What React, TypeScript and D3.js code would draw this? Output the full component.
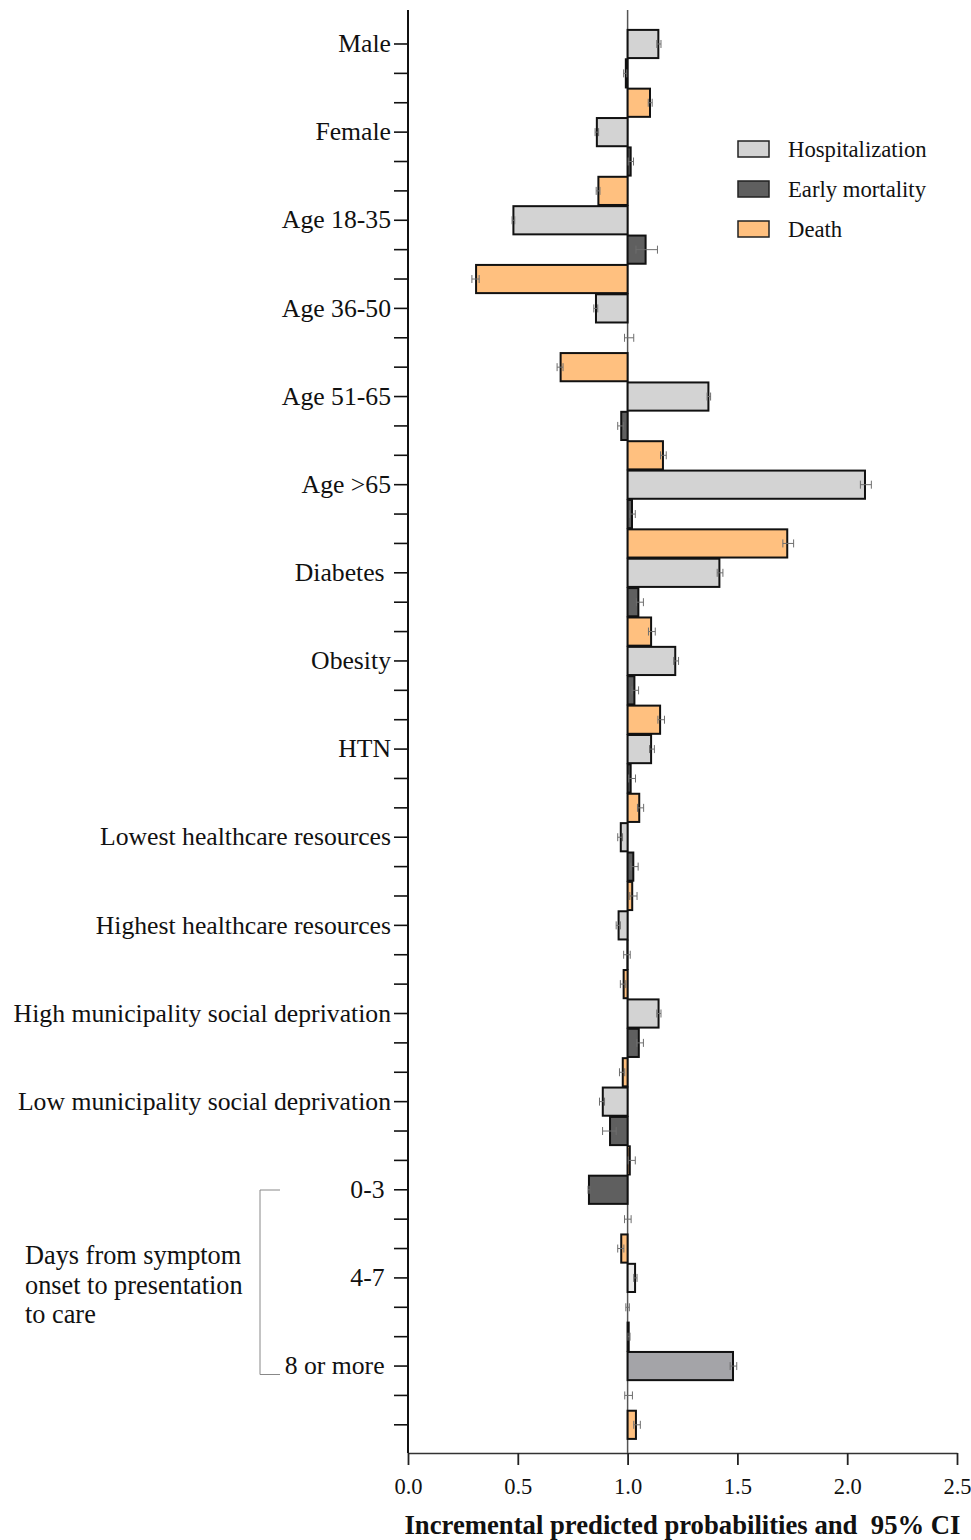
import { useRef, useEffect } from 'react';
import { select, scaleLinear, scaleBand, axisLeft, axisBottom, format } from 'd3';

// categories (trailing spaces are kept on purpose, the original labels sit further from the ticks)
const categories = [
  'Male',
  'Female',
  'Age 18-35',
  'Age 36-50',
  'Age 51-65',
  'Age >65',
  'Diabetes ',
  'Obesity',
  'HTN',
  'Lowest healthcare resources',
  'Highest healthcare resources',
  'High municipality social deprivation',
  'Low municipality social deprivation',
  '0-3 ',
  '4-7 ',
  '8 or more ',
];
const seriesNames = ['Hospitalization', 'Early mortality', 'Death'];

const hospitalization = [1.14, 0.86, 0.48, 0.856, 1.368, 2.081, 1.418, 1.217, 1.107, 0.969, 0.959, 1.141, 0.887, 0.824, 1.034, 1.48];
const hospitalizationLow = [1.133, 0.852, 0.474, 0.846, 1.362, 2.06, 1.408, 1.21, 1.1, 0.955, 0.948, 1.133, 0.872, 0.82, 1.028, 1.467];
const hospitalizationHigh = [1.152, 0.868, 0.486, 0.864, 1.378, 2.11, 1.434, 1.232, 1.122, 0.977, 0.967, 1.152, 0.895, 0.828, 1.043, 1.497];

const earlyMortality = [0.992, 1.014, 1.082, 1.0, 0.971, 1.02, 1.049, 1.031, 1.014, 1.026, 0.999, 1.051, 0.92, 1.0, 1.0, 1.0];
const earlyMortalityLow = [0.982, 1.003, 1.038, 0.986, 0.955, 1.009, 1.04, 1.02, 1.005, 1.015, 0.982, 1.042, 0.886, 0.986, 0.992, 0.987];
const earlyMortalityHigh = [0.996, 1.027, 1.136, 1.028, 0.982, 1.035, 1.072, 1.05, 1.036, 1.048, 1.012, 1.072, 0.948, 1.016, 1.008, 1.022];

const death = [1.102, 0.867, 0.31, 0.695, 1.161, 1.727, 1.107, 1.148, 1.053, 1.021, 0.982, 0.978, 1.01, 0.971, 1.005, 1.038];
const deathLow = [1.094, 0.857, 0.291, 0.679, 1.15, 1.707, 1.095, 1.138, 1.045, 1.01, 0.967, 0.963, 1.003, 0.955, 1.002, 1.028];
const deathHigh = [1.112, 0.874, 0.324, 0.706, 1.176, 1.756, 1.126, 1.168, 1.073, 1.043, 0.992, 0.987, 1.035, 0.983, 1.011, 1.058];

const xTicks = [0, 0.5, 1, 1.5, 2, 2.5];
const groupLabel = ['Days from symptom', 'onset to presentation', 'to care'];
const xTitle = 'Incremental predicted probabilities and\u00a0 95% CI';

const COLORS = ['#d3d3d3', '#5f5f5f', '#ffc07f'];
// the last block of the original figure uses odd fills for the first bar of each group
const FILL_OVERRIDE: Record<string, string> = {
  '0-3 |Hospitalization': '#5f5f5f',
  '4-7 |Hospitalization': '#ececec',
  '8 or more |Hospitalization': '#a4a4a8',
};

const WIDTH = 971;
const HEIGHT = 1540;
const LEFT = 408;
const RIGHT = 957;
const TOP = 10;
const BOTTOM = 1453;
const FONT = '"Liberation Serif", "Times New Roman", serif';

interface Row {
  key: string;
  category: string;
  series: number;
  value: number;
  low: number;
  high: number;
}

const series = [
  [hospitalization, hospitalizationLow, hospitalizationHigh],
  [earlyMortality, earlyMortalityLow, earlyMortalityHigh],
  [death, deathLow, deathHigh],
];

const rows: Row[] = categories.flatMap((category, i) =>
  seriesNames.map((name, s) => ({
    key: `${category}|${name}`,
    category,
    series: s,
    value: series[s][0][i],
    low: series[s][1][i],
    high: series[s][2][i],
  })),
);

export default function App() {
  const svgRef = useRef<SVGSVGElement>(null);

  useEffect(() => {
    const svg = select(svgRef.current!);
    svg.selectAll('*').remove();
    svg.attr('font-family', FONT);

    const x = scaleLinear().domain([0, 2.5]).range([LEFT, RIGHT]);
    const y = scaleBand<string>()
      .domain(rows.map((r) => r.key))
      .range([29.3, 1439.5]);
    const bw = y.bandwidth();

    // left axis, one tick per row, label only on the first row of each category
    const yAxis = svg
      .append('g')
      .attr('transform', `translate(${LEFT},0)`)
      .call(
        axisLeft(y)
          .tickSize(14)
          .tickSizeOuter(0)
          .tickPadding(3)
          .tickFormat((k) => (k.endsWith('|Hospitalization') ? k.split('|')[0] : '')),
      )
      .attr('font-family', FONT)
      .attr('font-size', 25.7);
    yAxis.select('.domain').remove();
    yAxis.selectAll('line').attr('stroke', '#111').attr('stroke-width', 1.6);
    yAxis.selectAll('text').attr('fill', '#111').style('white-space', 'pre');
    svg
      .append('line')
      .attr('x1', LEFT)
      .attr('x2', LEFT)
      .attr('y1', TOP)
      .attr('y2', BOTTOM)
      .attr('stroke', '#111')
      .attr('stroke-width', 2);

    // bottom axis
    const xAxis = svg
      .append('g')
      .attr('transform', `translate(0,${BOTTOM})`)
      .call(axisBottom(x).tickValues(xTicks).tickFormat(format('.1f')).tickSize(12).tickSizeOuter(0).tickPadding(13))
      .attr('font-family', FONT)
      .attr('font-size', 22.5);
    xAxis.select('.domain').attr('stroke', '#333').attr('stroke-width', 1.5);
    xAxis.selectAll('line').attr('stroke', '#222').attr('stroke-width', 1.8);
    xAxis.selectAll('text').attr('fill', '#111');

    svg
      .append('text')
      .attr('x', (LEFT + RIGHT) / 2)
      .attr('y', 1534)
      .attr('text-anchor', 'middle')
      .attr('font-size', 26.7)
      .attr('font-weight', 'bold')
      .attr('fill', '#111')
      .text(xTitle);

    // reference line at 1.0
    svg
      .append('line')
      .attr('x1', x(1))
      .attr('x2', x(1))
      .attr('y1', TOP)
      .attr('y2', BOTTOM)
      .attr('stroke', '#555')
      .attr('stroke-width', 1.5);

    // bars
    svg
      .append('g')
      .selectAll('rect')
      .data(rows)
      .enter()
      .append('rect')
      .attr('x', (d) => x(Math.min(d.value, 1)))
      .attr('width', (d) => Math.abs(x(d.value) - x(1)))
      .attr('y', (d) => y(d.key)! + 0.6)
      .attr('height', bw - 1.2)
      .attr('fill', (d) => FILL_OVERRIDE[d.key] ?? COLORS[d.series])
      .attr('stroke', '#111')
      .attr('stroke-width', 2);

    // 95% CI whiskers
    const ci = svg.append('g').attr('stroke', '#6e6e6e').attr('stroke-width', 1).attr('fill', 'none');
    rows.forEach((d) => {
      const cy = y(d.key)! + bw / 2;
      ci.append('path').attr(
        'd',
        `M${x(d.low)},${cy}H${x(d.high)}M${x(d.low)},${cy - 4}V${cy + 4}M${x(d.high)},${cy - 4}V${cy + 4}`,
      );
    });

    // legend
    const legend = svg.append('g').attr('transform', 'translate(738,141)');
    seriesNames.forEach((name, i) => {
      legend
        .append('rect')
        .attr('x', 0)
        .attr('y', i * 40)
        .attr('width', 31)
        .attr('height', 16)
        .attr('fill', COLORS[i])
        .attr('stroke', '#222')
        .attr('stroke-width', 1.5);
      legend
        .append('text')
        .attr('x', 50)
        .attr('y', i * 40 + 15.5)
        .attr('font-size', 22.7)
        .attr('fill', '#111')
        .text(name);
    });

    // bracket for the "days" group
    svg
      .append('path')
      .attr('d', 'M280,1190H260V1374.5H280')
      .attr('fill', 'none')
      .attr('stroke', '#888')
      .attr('stroke-width', 1);
    svg
      .append('g')
      .selectAll('text')
      .data(groupLabel)
      .enter()
      .append('text')
      .attr('x', 25)
      .attr('y', (_d, i) => 1264 + i * 29.5)
      .attr('font-size', 26.3)
      .attr('fill', '#111')
      .text((d) => d);
  }, []);

  return (
    <svg
      ref={svgRef}
      width={WIDTH}
      height={HEIGHT}
      style={{ position: 'absolute', left: 0, top: 0, background: '#fff' }}
    />
  );
}
